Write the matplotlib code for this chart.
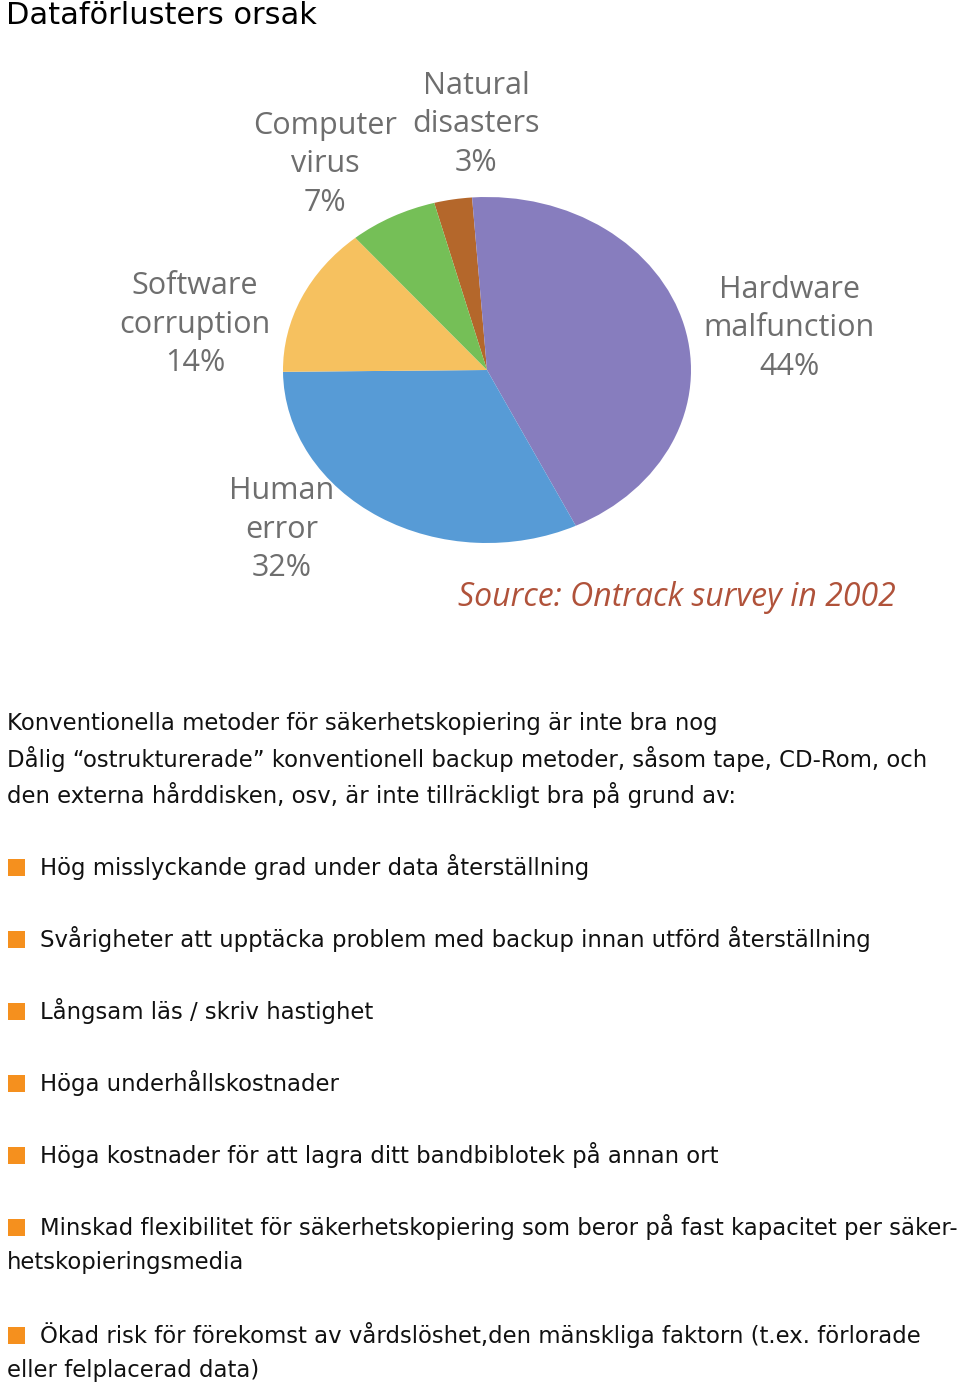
import matplotlib
matplotlib.use("Agg")
import matplotlib.pyplot as plt

W, H = 960, 1386
DPI = 100

# ---- data ----
categories = ["Natural disasters", "Hardware malfunction", "Human error",
              "Software corruption", "Computer virus"]
shares = [3, 44, 32, 14, 7]
colors = ["#B4672B", "#877DBE", "#579BD6", "#F6C15F", "#75BF57"]
label_lines = [["Natural", "disasters", "3%"],
               ["Hardware", "malfunction", "44%"],
               ["Human", "error", "32%"],
               ["Software", "corruption", "14%"],
               ["Computer", "virus", "7%"]]
title = "Dataförlusters orsak"
source = "Source: Ontrack survey in 2002"
intro = ["Konventionella metoder för säkerhetskopiering är inte bra nog",
         "Dålig \u201costrukturerade\u201d konventionell backup metoder, såsom tape, CD-Rom, och",
         "den externa hårddisken, osv, är inte tillräckligt bra på grund av:"]
bullets = [["Hög misslyckande grad under data återställning"],
           ["Svårigheter att upptäcka problem med backup innan utförd återställning"],
           ["Långsam läs / skriv hastighet"],
           ["Höga underhållskostnader"],
           ["Höga kostnader för att lagra ditt bandbiblotek på annan ort"],
           ["Minskad flexibilitet för säkerhetskopiering som beror på fast kapacitet per säker-",
            "hetskopieringsmedia"],
           ["Ökad risk för förekomst av vårdslöshet,den mänskliga faktorn (t.ex. förlorade",
            "eller felplacerad data)"]]

fig = plt.figure(figsize=(W / DPI, H / DPI), dpi=DPI)
fig.patch.set_facecolor("white")

def fx(x):
    return x / W

def fy(y):
    return 1 - y / H

# ---- pie (slightly squashed ellipse as in the reference) ----
cx, cy, rx, ry = 487, 370, 204, 173
ax = fig.add_axes([fx(cx - rx), fy(cy + ry), 2 * rx / W, 2 * ry / H])
ax.pie(shares, colors=colors, startangle=105, counterclock=False,
       radius=1, wedgeprops=dict(linewidth=0))
ax.set_aspect("auto")
ax.set_xlim(-1, 1)
ax.set_ylim(-1, 1)
ax.axis("off")

label_pos = [(476, 86), (789, 290), (282, 491), (195, 286), (325, 126)]
LBL = dict(fontsize=22, color="#6e6e6e", family="Open Sans",
           ha="center", va="center")
for (x, y), lines in zip(label_pos, label_lines):
    for i, t in enumerate(lines):
        fig.text(fx(x), fy(y + i * 38.5), t, **LBL)

fig.text(fx(458), fy(597), source, fontsize=23, color="#B0523A",
         family="Open Sans", style="italic", ha="left", va="center")

# ---- title ----
fig.text(fx(6), fy(15), title, fontsize=22, color="black",
         family="DejaVu Sans", ha="left", va="center")

# ---- body text ----
BODY = dict(fontsize=16.35, color="#111111", family="DejaVu Sans",
            ha="left", va="center")
y = 723
for t in intro:
    fig.text(fx(7), fy(y), t, **BODY)
    y += 36
y = 867
for item in bullets:
    fig.patches.append(plt.Rectangle((fx(8), fy(y + 9)), 17 / W, 17 / H,
                                     transform=fig.transFigure,
                                     color="#F5901E", linewidth=0))
    for j, t in enumerate(item):
        x0 = 40 if j == 0 else 7
        fig.text(fx(x0), fy(y + j * 36), t, **BODY)
    y += 36 * len(item) + 36

fig.savefig("out.png", dpi=DPI, facecolor="white")
